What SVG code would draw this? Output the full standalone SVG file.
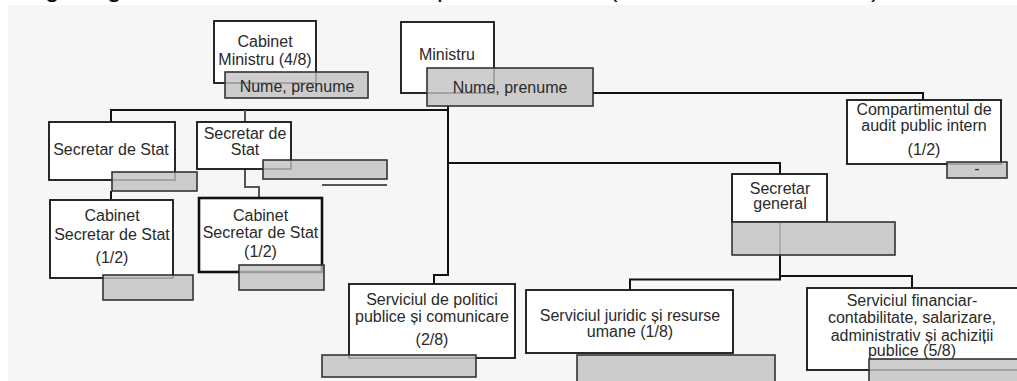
<svg xmlns="http://www.w3.org/2000/svg" width="1017" height="381" viewBox="0 0 1017 381">
<style>
.bx{fill:#ffffff;stroke:#111;stroke-width:1.8}
.bx3{fill:#ffffff;stroke:#111;stroke-width:2.6}
.gr{fill:#c2c2c2;fill-opacity:0.8;stroke:#333;stroke-width:1.6}
.t{font-family:"Liberation Sans",Arial,sans-serif;font-size:16px;fill:#2a2a2a;text-anchor:middle}
.frag{font-family:"Liberation Sans",Arial,sans-serif;font-size:26px;fill:#111}
.cn{fill:none;stroke:#111;stroke-width:2}
.cg{fill:none;stroke:#555;stroke-width:2}
</style>
<rect x="0" y="0" width="1017" height="381" fill="#ffffff"/>
<rect x="8" y="5" width="1009" height="376" fill="#f6f6f6"/>
<g id="title-fragments">
<text class="frag" x="45" y="-3">g</text>
<text class="frag" x="107" y="-3">g</text>
<text class="frag" x="437" y="-3">p</text>
<text class="frag" x="609" y="-3">(</text>
<text class="frag" x="871" y="-3">)</text>
</g>
<g id="connectors">
<polyline class="cn" points="448,106 448,275 434,275 434,284"/>
<polyline class="cn" points="111,122 111,110 448,110"/>
<line class="cg" x1="245" y1="110" x2="245" y2="122"/>
<polyline class="cn" points="448,163 780,163 780,174"/>
<polyline class="cn" points="593,93 923,93 923,100"/>
<line class="cn" x1="111" y1="191" x2="111" y2="200"/>
<polyline class="cg" points="245,169 245,187 259,187 259,198"/>
<line class="cg" x1="780" y1="222" x2="780" y2="255"/>
<polyline class="cn" points="780,255 780,279.5 630,279.5 630,290"/>
<polyline class="cn" points="780,276 912,276 912,288"/>
</g>
<g id="cabinet-ministru">
<rect class="bx" x="214" y="21" width="102" height="62"/>
<text class="t" x="265" y="47">Cabinet</text>
<text class="t" x="265" y="65">Ministru (4/8)</text>
<rect class="gr" x="225" y="72" width="143" height="26"/>
<text class="t" x="297" y="91.5">Nume, prenume</text>
</g>
<g id="ministru">
<rect class="bx" x="401" y="22" width="93" height="71"/>
<text class="t" x="447" y="60">Ministru</text>
<rect class="gr" x="427" y="68" width="166" height="38"/>
<text class="t" x="510" y="92.5">Nume, prenume</text>
</g>
<g id="compartiment-audit">
<rect class="bx" x="847" y="100" width="154" height="64"/>
<text class="t" x="924" y="114.5">Compartimentul de</text>
<text class="t" x="924" y="131">audit public intern</text>
<text class="t" x="924" y="155">(1/2)</text>
<rect class="gr" x="947" y="162" width="60" height="16"/>
<text class="t" x="977" y="174">-</text>
</g>
<g id="secretar-stat-1">
<rect class="bx" x="49" y="122" width="126" height="58"/>
<text class="t" x="111" y="155">Secretar de Stat</text>
<rect class="gr" x="112" y="172" width="85" height="19"/>
</g>
<g id="secretar-stat-2">
<rect class="bx" x="197" y="122" width="94" height="47"/>
<text class="t" x="245" y="138.5">Secretar de</text>
<text class="t" x="245" y="154.5">Stat</text>
<rect class="gr" x="263" y="160" width="124" height="19"/>
<line x1="322" y1="185" x2="387" y2="185" stroke="#555" stroke-width="2"/>
</g>
<g id="cabinet-secretar-stat-1">
<rect class="bx" x="50" y="200" width="123" height="78"/>
<text class="t" x="112" y="221">Cabinet</text>
<text class="t" x="112" y="239.5">Secretar de Stat</text>
<text class="t" x="112" y="262.5">(1/2)</text>
<rect class="gr" x="103" y="275" width="90" height="25"/>
</g>
<g id="cabinet-secretar-stat-2">
<rect class="bx3" x="199" y="198" width="123" height="74"/>
<text class="t" x="260.5" y="221">Cabinet</text>
<text class="t" x="260.5" y="237.5">Secretar de Stat</text>
<text class="t" x="260.5" y="256.5">(1/2)</text>
<rect class="gr" x="239" y="265" width="85" height="25"/>
</g>
<g id="secretar-general">
<rect class="bx" x="732" y="174" width="95" height="48"/>
<text class="t" x="780" y="193.5">Secretar</text>
<text class="t" x="780" y="208.5">general</text>
<rect class="gr" x="732" y="222" width="163" height="33"/>
</g>
<g id="serviciul-politici">
<rect class="bx" x="349" y="284" width="166" height="74"/>
<text class="t" x="432" y="304.5">Serviciul de politici</text>
<text class="t" x="432" y="321.5">publice și comunicare</text>
<text class="t" x="432" y="345">(2/8)</text>
<rect class="gr" x="322" y="355" width="154" height="22"/>
</g>
<g id="serviciul-juridic">
<rect class="bx" x="526" y="290" width="207" height="63"/>
<text class="t" x="630" y="320.5">Serviciul juridic și resurse</text>
<text class="t" x="630" y="336.5">umane (1/8)</text>
<rect class="gr" x="577" y="355" width="198" height="30"/>
</g>
<g id="serviciul-financiar">
<rect class="bx" x="807" y="288" width="215" height="82"/>
<text class="t" x="912" y="305.5">Serviciul financiar-</text>
<text class="t" x="912" y="323">contabilitate, salarizare,</text>
<text class="t" x="912" y="340.5">administrativ și achiziții</text>
<text class="t" x="912" y="356">publice  (5/8)</text>
<rect class="gr" x="869" y="359" width="155" height="30"/>
</g>
</svg>
